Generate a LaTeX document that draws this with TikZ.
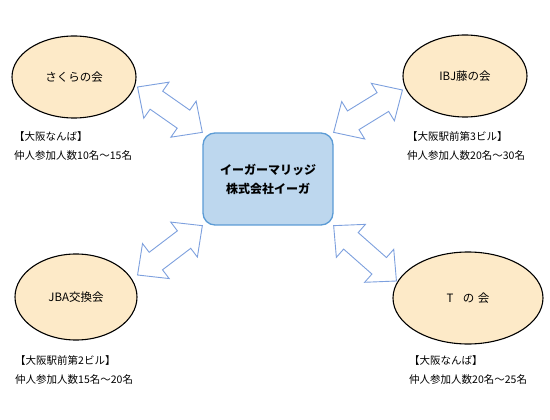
\documentclass[tikz,border=0pt]{standalone}
\usepackage{fontspec}
\setmainfont{Noto Sans CJK JP}
\usetikzlibrary{shapes.geometric}
\usetikzlibrary{calc}

\definecolor{kaifill}{RGB}{253,234,200}
\definecolor{hubfill}{RGB}{189,215,238}
\definecolor{hubline}{RGB}{91,155,213}
\definecolor{arrline}{RGB}{125,160,222}

% double block arrow from #1 to #2
\newcommand{\dblarrow}[2]{%
  \draw[dbl] (#1)
    -- ($(#1)!23pt!(#2)!22pt!90:(#2)$) -- ($(#1)!23pt!(#2)!11pt!90:(#2)$)
    -- ($(#2)!23pt!(#1)!11pt!-90:(#1)$) -- ($(#2)!23pt!(#1)!22pt!-90:(#1)$)
    -- (#2)
    -- ($(#2)!23pt!(#1)!22pt!90:(#1)$) -- ($(#2)!23pt!(#1)!11pt!90:(#1)$)
    -- ($(#1)!23pt!(#2)!11pt!-90:(#2)$) -- ($(#1)!23pt!(#2)!22pt!-90:(#2)$)
    -- cycle;}

\begin{document}
\begin{tikzpicture}[x=1pt,y=-1pt,
  kai/.style={draw,ellipse,line width=1.1pt,fill=kaifill,inner sep=0pt,
    font=\fontsize{11.5}{14}\selectfont},
  hub/.style={draw=hubline,line width=1.3pt,fill=hubfill,rounded corners=12pt,
    minimum width=130pt,minimum height=92pt,align=center,
    font=\bfseries\fontsize{12}{19}\selectfont},
  info/.style={anchor=west,align=left,inner sep=0pt,
    font=\fontsize{10.5}{19}\selectfont},
  dbl/.style={draw=arrline,line width=0.9pt,fill=white,line join=miter}]
\useasboundingbox (0,0) rectangle (550,420);

\node[hub] (hub) at (268,179) {イーガーマリッジ\\株式会社イーガ};

\node[kai,minimum width=124pt,minimum height=82pt] (sakura) at (74,77) {さくらの会};
\node[kai,minimum width=124pt,minimum height=82pt] (ibj) at (465,76) {IBJ藤の会};
\node[kai,minimum width=122pt,minimum height=86pt] (jba) at (76,297) {JBA交換会};
\node[kai,minimum width=150pt,minimum height=92pt] (tkai) at (468,298) {T\hspace{0.8em}の\hspace{0.3em}会};

\node[info] (sakura info) at (14,146) {【大阪なんば】\\仲人参加人数10名～15名};
\node[info] (ibj info) at (407,146) {【大阪駅前第3ビル】\\仲人参加人数20名～30名};
\node[info] (jba info) at (15,370) {【大阪駅前第2ビル】\\仲人参加人数15名～20名};
\node[info] (tkai info) at (409,370) {【大阪なんば】\\仲人参加人数20名～25名};

% arrow ends
\coordinate (sakura tip) at ($(sakura.east)+(1,10)$);
\coordinate (ibj tip) at ($(ibj.west)+(0,14)$);
\coordinate (jba tip) at ($(jba.east)+(0,-22)$);
\coordinate (tkai tip) at ($(tkai.west)+(4,-17)$);

\dblarrow{sakura tip}{hub.north west}
\dblarrow{hub.north east}{ibj tip}
\dblarrow{hub.south west}{jba tip}
\dblarrow{hub.south east}{tkai tip}
\end{tikzpicture}
\end{document}
